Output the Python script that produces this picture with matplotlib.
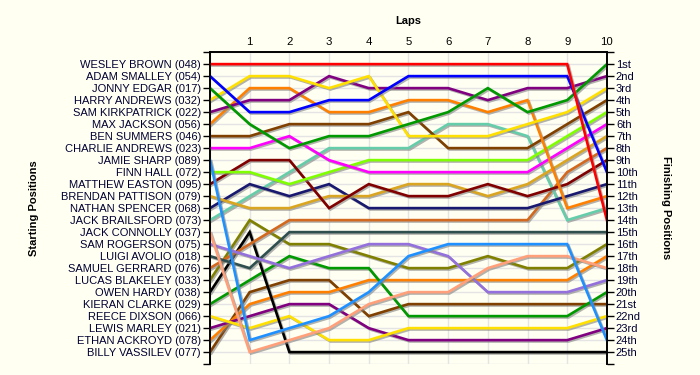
import matplotlib
matplotlib.use("Agg")
import matplotlib.pyplot as plt
import matplotlib.patheffects as pe

plt.rcParams['font.family'] = ['Liberation Sans', 'DejaVu Sans']

laps = list(range(0, 11))

drivers = [
    "WESLEY BROWN (048)", "ADAM SMALLEY (054)", "JONNY EDGAR (017)",
    "HARRY ANDREWS (032)", "SAM KIRKPATRICK (022)", "MAX JACKSON (056)",
    "BEN SUMMERS (046)", "CHARLIE ANDREWS (023)", "JAMIE SHARP (089)",
    "FINN HALL (072)", "MATTHEW EASTON (095)", "BRENDAN PATTISON (079)",
    "NATHAN SPENCER (068)", "JACK BRAILSFORD (073)", "JACK CONNOLLY (037)",
    "SAM ROGERSON (075)", "LUIGI AVOLIO (018)", "SAMUEL GERRARD (076)",
    "LUCAS BLAKELEY (033)", "OWEN HARDY (038)", "KIERAN CLARKE (029)",
    "REECE DIXSON (066)", "LEWIS MARLEY (021)", "ETHAN ACKROYD (078)",
    "BILLY VASSILEV (077)",
]

# position of each driver at laps 0..10
positions = [
    [1, 1, 1, 1, 1, 1, 1, 1, 1, 1, 14],
    [2, 5, 5, 4, 4, 2, 2, 2, 2, 2, 10],
    [3, 6, 8, 7, 7, 6, 5, 3, 5, 4, 1],
    [4, 2, 2, 3, 2, 7, 7, 7, 6, 5, 3],
    [5, 4, 4, 2, 3, 3, 3, 4, 3, 3, 2],
    [6, 3, 3, 5, 5, 4, 4, 5, 4, 13, 12],
    [7, 7, 6, 6, 6, 5, 8, 8, 8, 6, 4],
    [8, 8, 7, 9, 10, 10, 10, 10, 10, 8, 6],
    [9, 24, 23, 22, 20, 17, 16, 16, 16, 16, 24],
    [10, 10, 11, 10, 9, 9, 9, 9, 9, 7, 5],
    [11, 9, 9, 13, 11, 12, 12, 11, 12, 11, 9],
    [12, 13, 13, 12, 12, 11, 11, 12, 11, 9, 7],
    [13, 11, 12, 11, 13, 13, 13, 13, 13, 12, 11],
    [14, 12, 10, 8, 8, 8, 6, 6, 7, 14, 13],
    [15, 25, 24, 23, 21, 20, 20, 18, 17, 17, 18],
    [16, 17, 18, 17, 16, 16, 17, 20, 20, 20, 19],
    [17, 18, 15, 15, 15, 15, 15, 15, 15, 15, 15],
    [18, 16, 14, 14, 14, 14, 14, 14, 14, 10, 8],
    [19, 14, 16, 16, 17, 18, 18, 17, 18, 18, 16],
    [20, 15, 25, 25, 25, 25, 25, 25, 25, 25, 25],
    [21, 19, 17, 18, 18, 22, 22, 22, 22, 22, 20],
    [22, 23, 22, 24, 24, 23, 23, 23, 23, 23, 22],
    [23, 22, 21, 21, 23, 24, 24, 24, 24, 24, 23],
    [24, 21, 20, 20, 19, 19, 19, 19, 19, 19, 17],
    [25, 20, 19, 19, 22, 21, 21, 21, 21, 21, 21],
]

colors = [
    "#FF0000", "#0000FF", "#009900", "#FFE000", "#800080", "#FF8000",
    "#804000", "#FF00FF", "#1E90FF", "#80FF00", "#800000", "#DAA520",
    "#191970", "#66CDAA", "#FFA07A", "#9370DB", "#2F4F4F", "#D2691E",
    "#808000", "#000000", "#009900", "#FFE000", "#800080", "#FF8000",
    "#804000",
]

finish_labels = ["1st", "2nd", "3rd"] + [f"{i}th" for i in range(4, 21)] + \
    ["21st", "22nd", "23rd", "24th", "25th"]

bg = "#FFFFF2"
fig = plt.figure(figsize=(7, 3.75), dpi=100, facecolor=bg)
ax = fig.add_axes([0.3, 0.029, 0.567, 0.832], facecolor=bg)

shadow = [pe.SimpleLineShadow(offset=(1, -1), shadow_color="gray", alpha=0.6), pe.Normal()]
for i in range(len(drivers) - 1, -1, -1):
    ax.plot(laps, positions[i], color=colors[i], lw=1.9, path_effects=shadow,
            solid_joinstyle="miter", zorder=3)

ax.set_xlim(0, 10)
ax.set_ylim(26, 0)

ax.xaxis.tick_top()
ax.set_xticks(laps)
ax.set_xticklabels([""] + [str(l) for l in laps[1:]], fontsize=8.2)
ax.tick_params(axis="x", length=0, pad=4)
ax.xaxis.set_label_position("top")
ax.set_xlabel("Laps", fontsize=8, fontweight="bold", labelpad=9)

ax.set_yticks(range(0, 27))
ax.set_yticklabels([""] + drivers + [""], fontsize=8, color="#000033")
ax.tick_params(axis="y", length=5, pad=1.5, width=1)
ax.set_ylabel("Starting Positions", fontsize=8, fontweight="bold", labelpad=16)

ax2 = ax.twinx()
ax2.set_ylim(26, 0)
ax2.set_yticks(range(0, 27))
ax2.set_yticklabels([""] + finish_labels + [""], fontsize=8, color="#000033")
ax2.tick_params(axis="y", length=5, pad=1.5, width=1)
ax2.set_ylabel("Finishing Positions", fontsize=8, fontweight="bold",
               rotation=-90, labelpad=22)

for a in (ax, ax2):
    a.spines["bottom"].set_visible(False)
    for s in ("top", "left", "right"):
        a.spines[s].set_linewidth(1.2)

ax.grid(True, color="#E4E4E4", lw=1, zorder=0)
ax.set_axisbelow(True)

fig.savefig("out.png", dpi=100, facecolor=bg)
